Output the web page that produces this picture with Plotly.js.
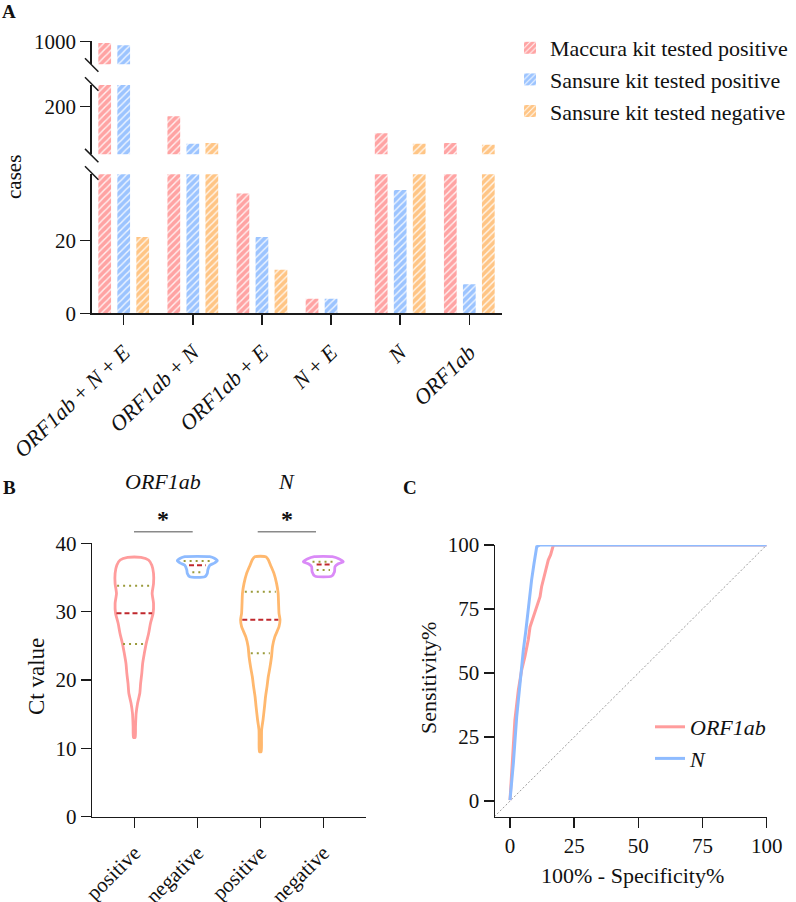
<!DOCTYPE html>
<html>
<head>
<meta charset="utf-8">
<script src="https://cdn.plot.ly/plotly-3.0.1.min.js"></script>
<style>html,body{margin:0;padding:0;background:#fff;}#chart{width:796px;height:902px;}</style>
</head>
<body>
<div id="chart"></div>
<script>
// ---------- Panel A data ----------
const categoriesA = ['<i>ORF1ab</i> + <i>N</i> + <i>E</i>', '<i>ORF1ab</i> + <i>N</i>', '<i>ORF1ab</i> + <i>E</i>', '<i>N</i> + <i>E</i>', '<i>N</i>', '<i>ORF1ab</i>'];
const maccuraPositive = [993, 180, 33, 4, 144, 124];
const sansurePositive = [983, 122, 21, 4, 34, 8];
const sansureNegative = [21, 124, 12, 0, 122, 120];
const seriesNamesA = ['Maccura kit tested positive', 'Sansure kit tested positive', 'Sansure kit tested negative'];

// ---------- Panel B data (violin outlines) ----------
const groupTicksB = ['positive', 'negative', 'positive', 'negative'];
const orfPosCt = [11.6, 13.2, 15.1, 16.6, 18.05, 19.5, 21.0, 22.4, 23.9, 25.4, 26.8, 28.3, 29.76, 31.2, 32.7, 34.1, 35.6, 36.8, 37.56, 37.95];
const orfPosDensity = [0.013, 0.019, 0.029, 0.052, 0.087, 0.100, 0.119, 0.132, 0.159, 0.190, 0.227, 0.257, 0.298, 0.305, 0.283, 0.305, 0.305, 0.278, 0.225, 0.106];
const orfNegCt = [35.1, 35.6, 36.1, 36.8, 37.1, 37.45, 37.8, 38.04];
const orfNegDensity = [0.119, 0.159, 0.167, 0.198, 0.270, 0.317, 0.270, 0.198];
const nPosCt = [9.5, 11.2, 12.7, 14.15, 16.1, 17.55, 19.0, 20.5, 21.9, 23.4, 24.9, 26.3, 27.8, 28.8, 29.76, 31.2, 32.7, 34.1, 35.6, 36.8, 37.6, 38.04];
const nPosDensity = [0.013, 0.019, 0.021, 0.043, 0.067, 0.083, 0.106, 0.127, 0.154, 0.178, 0.194, 0.230, 0.297, 0.313, 0.297, 0.290, 0.283, 0.259, 0.217, 0.163, 0.127, 0.087];
const nNegCt = [35.2, 35.85, 36.6, 37.0, 37.3, 37.7, 38.04];
const nNegDensity = [0.132, 0.178, 0.186, 0.238, 0.317, 0.254, 0.143];
// quartiles [Q1, median, Q3] and their line half-widths
const orfPosQuart = [25.27, 29.76, 33.8];   const orfPosQuartW = [0.179, 0.283, 0.273];
const orfNegQuart = [35.75, 36.8, 37.4];    const orfNegQuartW = [0.079, 0.132, 0.217];
const nPosQuart = [23.9, 28.8, 32.9];       const nPosQuartW = [0.151, 0.286, 0.246];
const nNegQuart = [36.1, 36.9, 37.3];       const nNegQuartW = [0.106, 0.106, 0.171];

// ---------- Panel C data (ROC) ----------
const rocNx = [0, 1.3, 2.6, 3.6, 4.5, 5.2, 6.2, 7.1, 7.8, 8.4, 9.35, 10.4, 11.7, 100];
const rocNy = [0.4, 14.7, 32.9, 43.4, 51.2, 59, 66.8, 75.9, 82.4, 86.3, 92.8, 99.3, 100, 100];
const rocORFx = [0, 1.0, 1.9, 3.25, 4.5, 5.8, 7.1, 7.8, 9.1, 10.4, 11.7, 12.3, 13.6, 14.9, 15.8, 16.9, 100];
const rocORFy = [0.4, 17.3, 31.6, 43.4, 51, 56.4, 62.9, 68, 72, 75.9, 79.8, 83.7, 88.9, 94.1, 96.1, 100, 100];
const chanceLine = [-6.1, 100];

// ---------- helpers ----------
const W = 796, H = 902;
const fx = p => p / W;
const fy = p => 1 - p / H;
const FONT = 'Liberation Serif, Times New Roman, serif';
const AXC = '#1a1a1a';

const barColors = ['#FFA3A3', '#9CC4FF', '#FFC585'];
const seriesA = [maccuraPositive, sansurePositive, sansureNegative];
const traces = [];
['y', 'y2', 'y3'].forEach((ya, k) => {
  seriesA.forEach((vals, i) => {
    traces.push({
      type: 'bar', x: categoriesA, y: vals, name: seriesNamesA[i],
      xaxis: 'x', yaxis: ya, offsetgroup: 'g' + i,
      showlegend: k === 0, legend: 'legend',
      marker: {
        color: barColors[i], line: {width: 0},
        pattern: {shape: '/', bgcolor: barColors[i], fgcolor: 'rgba(255,255,255,0.85)', size: 5, solidity: 0.28}
      },
      hoverinfo: 'skip'
    });
  });
});

function violin(ct, dens, center, color) {
  const xs = [], ys = [];
  for (let i = 0; i < ct.length; i++) { xs.push(center + dens[i]); ys.push(ct[i]); }
  for (let i = ct.length - 1; i >= 0; i--) { xs.push(center - dens[i]); ys.push(ct[i]); }
  xs.push(xs[0]); ys.push(ys[0]);
  return {type: 'scatter', mode: 'lines', x: xs, y: ys, xaxis: 'x2', yaxis: 'y4',
    line: {color: color, width: 2.8, shape: 'spline', smoothing: 0.6}, showlegend: false, hoverinfo: 'skip'};
}
function quartLines(q, w, center) {
  const out = [];
  q.forEach((v, i) => {
    out.push({type: 'scatter', mode: 'lines', x: [center - w[i], center + w[i]], y: [v, v], xaxis: 'x2', yaxis: 'y4',
      line: {color: i === 1 ? '#C0282D' : '#9A9A3A', width: 2, dash: i === 1 ? '5px,3px' : '2px,4px'}, showlegend: false, hoverinfo: 'skip'});
  });
  return out;
}
traces.push(violin(orfPosCt, orfPosDensity, 0, '#FF9C9C'));
traces.push(violin(orfNegCt, orfNegDensity, 1, '#8EBBFF'));
traces.push(violin(nPosCt, nPosDensity, 2, '#FFB86E'));
traces.push(violin(nNegCt, nNegDensity, 3, '#DA8AF7'));
traces.push(...quartLines(orfPosQuart, orfPosQuartW, 0));
traces.push(...quartLines(orfNegQuart, orfNegQuartW, 1));
traces.push(...quartLines(nPosQuart, nPosQuartW, 2));
traces.push(...quartLines(nNegQuart, nNegQuartW, 3));

traces.push({type: 'scatter', mode: 'lines', x: chanceLine, y: chanceLine, xaxis: 'x3', yaxis: 'y5',
  line: {color: '#9a9a9a', width: 1, dash: '2px,2px'}, showlegend: false, hoverinfo: 'skip'});
traces.push({type: 'scatter', mode: 'lines', x: rocORFx, y: rocORFy, xaxis: 'x3', yaxis: 'y5', name: '<i>ORF1ab</i>',
  legend: 'legend2', line: {color: '#FF9C9C', width: 3}, cliponaxis: false, hoverinfo: 'skip'});
traces.push({type: 'scatter', mode: 'lines', x: rocNx, y: rocNy, xaxis: 'x3', yaxis: 'y5', name: '<i>N</i>',
  legend: 'legend2', line: {color: '#8EBBFF', width: 3}, cliponaxis: false, hoverinfo: 'skip'});

const axBase = {showline: true, linecolor: AXC, linewidth: 1.5, ticks: 'outside', ticklen: 10, tickwidth: 1.5, tickcolor: AXC,
  showgrid: false, zeroline: false, tickfont: {family: FONT, size: 21, color: '#111'}, fixedrange: true};

const breakMarks = [65, 84, 155.6, 173].map(y => ({type: 'line', xref: 'paper', yref: 'paper',
  x0: fx(85), y0: fy(y - 6.7), x1: fx(98.4), y1: fy(y + 6.7), line: {color: AXC, width: 1.5}}));

function ann(text, x, y, size, extra) {
  return Object.assign({text: text, x: fx(x), y: fy(y), xref: 'paper', yref: 'paper', xanchor: 'center', yanchor: 'middle',
    showarrow: false, font: {family: FONT, size: size, color: '#111'}}, extra || {});
}

const layout = {
  width: W, height: H, margin: {l: 0, r: 0, t: 0, b: 0},
  paper_bgcolor: '#fff', plot_bgcolor: 'rgba(0,0,0,0)',
  font: {family: FONT, color: '#111'},
  barmode: 'group', bargap: 0.175, bargroupgap: 0.33,
  xaxis: Object.assign({}, axBase, {domain: [fx(91.7), fx(502)], range: [-0.463, 5.473], type: 'category', anchor: 'y', tickangle: -44,
    ticklabelstandoff: 6, tickfont: {family: FONT, size: 22, color: '#111'}}),
  yaxis: Object.assign({}, axBase, {domain: [fy(313.3), fy(174.3)], range: [0, 38.3], tickvals: [0, 20], anchor: 'x'}),
  yaxis2: Object.assign({}, axBase, {domain: [fy(154.3), fy(85)], range: [100, 245.6], tickvals: [200], anchor: 'x'}),
  yaxis3: Object.assign({}, axBase, {domain: [fy(64.3), fy(41.3)], range: [900, 1000], tickvals: [1000], anchor: 'x'}),
  xaxis2: Object.assign({}, axBase, {domain: [fx(92.3), fx(366)], range: [-0.667, 3.678], tickvals: [0, 1, 2, 3], ticktext: groupTicksB, tickangle: -45,
    ticklabelstandoff: 4, anchor: 'y4'}),
  yaxis4: Object.assign({}, axBase, {domain: [fy(816.7), fy(543.3)], range: [0, 40], tickvals: [0, 10, 20, 30, 40], anchor: 'x2'}),
  xaxis3: Object.assign({}, axBase, {domain: [fx(495), fx(766.7)], range: [-5.85, 100], tickvals: [0, 25, 50, 75, 100], anchor: 'y5'}),
  yaxis5: Object.assign({}, axBase, {domain: [fy(816.7), fy(545)], range: [-6.1, 100], tickvals: [0, 25, 50, 75, 100], anchor: 'x3'}),
  legend: {x: fx(510), y: fy(27), xanchor: 'left', yanchor: 'top', bgcolor: 'rgba(0,0,0,0)',
    font: {family: FONT, size: 22, color: '#111'}, traceorder: 'grouped', tracegroupgap: 9, itemwidth: 30},
  legend2: {x: fx(650), y: fy(706), xanchor: 'left', yanchor: 'top', bgcolor: 'rgba(0,0,0,0)',
    font: {family: FONT, size: 22, color: '#111'}, tracegroupgap: 10, traceorder: 'grouped', itemwidth: 30},
  shapes: breakMarks.concat([
    {type: 'line', xref: 'paper', yref: 'paper', x0: fx(134), x1: fx(192.7), y0: fy(531.7), y1: fy(531.7), line: {color: '#8a8a8a', width: 1.5}},
    {type: 'line', xref: 'paper', yref: 'paper', x0: fx(257.7), x1: fx(316), y0: fy(531.7), y1: fy(531.7), line: {color: '#8a8a8a', width: 1.5}}
  ]),
  annotations: [
    ann('<b>A</b>', 9, 11, 19),
    ann('<b>B</b>', 9, 487, 19),
    ann('<b>C</b>', 410, 487, 19),
    ann('cases', 14, 177, 21, {textangle: -90}),
    ann('Ct value', 36, 677, 23, {textangle: -90}),
    ann('Sensitivity%', 428, 678, 22, {textangle: -90}),
    ann('100% - Specificity%', 632, 875, 22),
    ann('<i>ORF1ab</i>', 163.3, 481.7, 22),
    ann('<i>N</i>', 286.7, 481.7, 22),
    ann('<b>*</b>', 163, 519, 24),
    ann('<b>*</b>', 287, 519, 24)
  ]
};

Plotly.newPlot('chart', traces, layout, {displayModeBar: false, staticPlot: true});
</script>
</body>
</html>
